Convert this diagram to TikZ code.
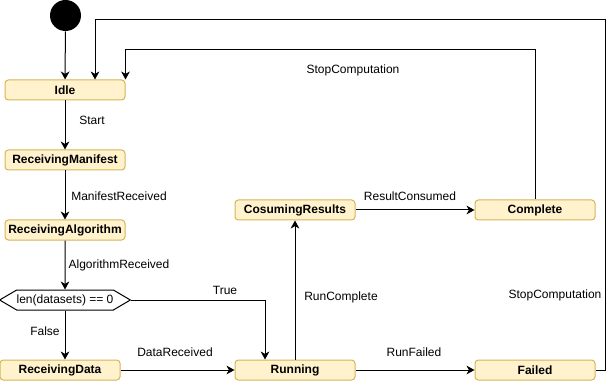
\documentclass[tikz,border=0pt]{standalone}
\usepackage{fontspec}
\setmainfont{Liberation Sans}
\usetikzlibrary{arrows.meta,positioning,calc,shapes.symbols}
\definecolor{statefill}{HTML}{FFF2CC}
\definecolor{stateline}{HTML}{D6B656}

\begin{document}
\begin{tikzpicture}[x=0.75pt,y=-0.75pt,line width=0.75pt,>={Stealth[length=6pt,width=6.5pt,inset=1.8pt]},
  state/.style={draw=stateline,fill=statefill,rounded corners=2.5pt,minimum width=90pt,minimum height=15pt,inner sep=0pt,font=\fontsize{9}{11}\selectfont\bfseries},
  lbl/.style={font=\fontsize{9}{11}\selectfont,inner sep=0pt}]
  \useasboundingbox (0,0) rectangle (614,381);
  % states
  \node[circle,fill=black,minimum size=23.25pt,inner sep=0pt] (init) at (65.5,15.5) {};
  \node[state] (idle) at (65,90) {Idle};
  \node[state] (manifest) at (65,160) {ReceivingManifest};
  \node[state] (algorithm) at (65,230) {ReceivingAlgorithm};
  \node[signal,signal to=east and west,signal pointer angle=61,draw,fill=white,minimum width=97.5pt,minimum height=15pt,inner sep=0pt,font=\fontsize{9}{11}\selectfont] (check) at (65,300) {len(datasets) == 0};
  \node[state] (data) at (60,370) {ReceivingData};
  \node[state] (running) at (295,370) {Running};
  \node[state] (results) at (295,210) {CosumingResults};
  \node[state] (complete) at (535,210) {Complete};
  \node[state] (failed) at (535,370) {Failed};
  % transitions
  \draw[->] (init) -- (idle);
  \draw[->] (idle) -- (manifest);
  \draw[->] (manifest) -- (algorithm);
  \draw[->] (algorithm) -- (check);
  \draw[->] (check.south) -- (check.south |- data.north);
  \draw[->] (check.east) -| ($(running.north)+(-30,0)$);
  \draw[->] (data) -- (running);
  \draw[->] (running) -- (results);
  \draw[->] (results) -- (complete);
  \draw[->] (running) -- (failed);
  \draw[->] (complete.north) |- ($(idle.north east)+(0,-30)$) -- (idle.north east);
  \draw[->] (failed.east) -| ++(10,-350) -| ($(idle.north)+(30,0)$);
  % labels
  \node[lbl] (lstart) at (92,120) {Start};
  \node[lbl] (lmanifest) at (119,196) {ManifestReceived};
  \node[lbl] (lalgorithm) at (119,265) {AlgorithmReceived};
  \node[lbl] (ltrue) at (225,290) {True};
  \node[lbl] (lfalse) at (45,331) {False};
  \node[lbl] (ldata) at (175,352) {DataReceived};
  \node[lbl] (lruncomplete) at (341,297) {RunComplete};
  \node[lbl] (lconsumed) at (410,196) {ResultConsumed};
  \node[lbl] (lrunfailed) at (414,352) {RunFailed};
  \node[lbl] (lstopfailed) at (555,295) {StopComputation};
  \node[lbl] (lstopcomplete) at (353,70) {StopComputation};
\end{tikzpicture}
\end{document}
